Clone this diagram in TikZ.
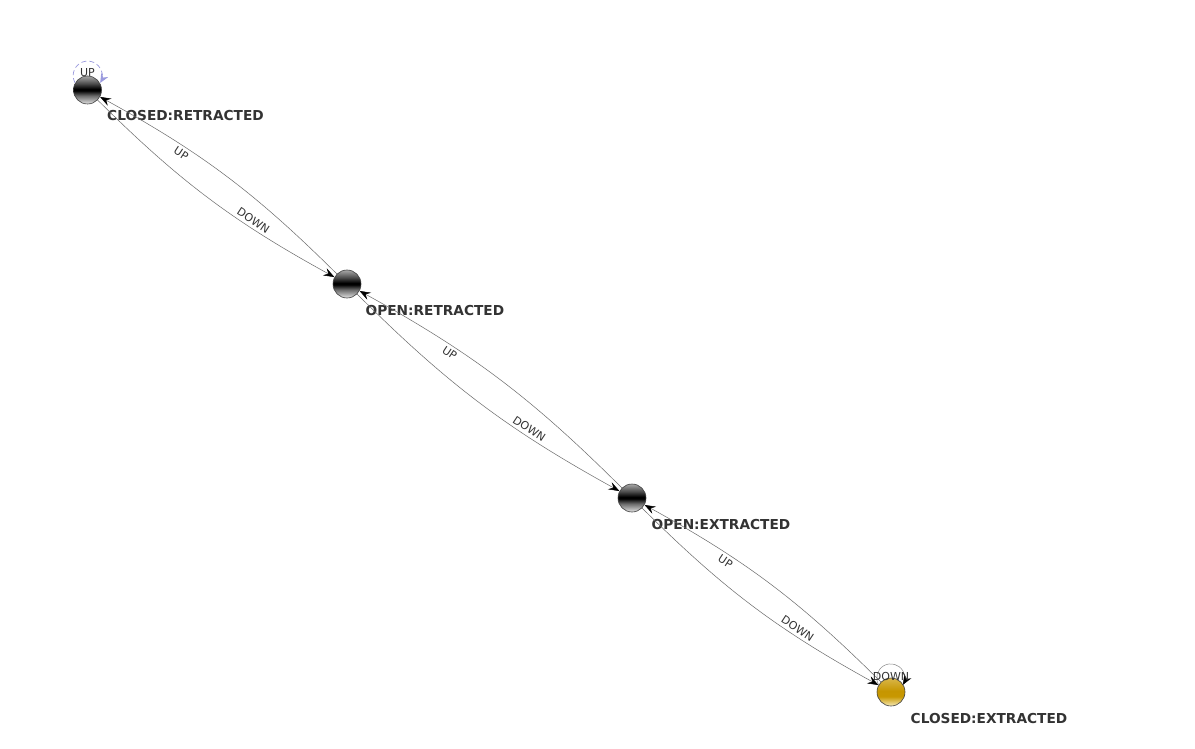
\documentclass[tikz,border=0pt]{standalone}
\usepackage{fontspec}
\setmainfont{DejaVu Sans}
\usetikzlibrary{arrows.meta}
\definecolor{edgegray}{HTML}{6A6A6A}
\definecolor{loopblue}{HTML}{9A9ADE}
\definecolor{loopgray}{HTML}{8A8A8A}
\definecolor{txt}{HTML}{333333}
\definecolor{gA}{HTML}{E4E4E4}
\definecolor{gB}{HTML}{6A6A6A}
\definecolor{gC}{HTML}{505050}
\definecolor{gD}{HTML}{A8A8A8}
\definecolor{yA}{HTML}{F6EAB8}
\definecolor{yB}{HTML}{C89800}
\definecolor{yC}{HTML}{C69600}
\definecolor{yD}{HTML}{D9B64A}
\pgfdeclareverticalshading{ballgray}{100bp}{color(0bp)=(gA); color(25bp)=(gA); color(40bp)=(gB); color(49bp)=(black); color(52bp)=(black); color(62bp)=(gC); color(75bp)=(gD); color(100bp)=(gD)}
\pgfdeclareverticalshading{ballgold}{100bp}{color(0bp)=(yA); color(25bp)=(yA); color(42bp)=(yB); color(52bp)=(yC); color(75bp)=(yD); color(100bp)=(yD)}
\begin{document}
\begin{tikzpicture}[x=1pt,y=1pt,
  state/.style={circle,draw=black!75,line width=0.6pt,minimum size=28pt,inner sep=0pt,shading=ballgray},
  goldstate/.style={state,shading=ballgold},
  statelabel/.style={anchor=base west,text=txt,font=\fontsize{13.7}{16}\selectfont\bfseries,inner sep=0pt},
  trans/.style={draw=edgegray,line width=0.5pt,-{Stealth[length=11pt,width=8pt,inset=4pt,black]}},
  elabel/.style={font=\fontsize{11}{12}\selectfont,text=txt,sloped,inner sep=3pt,pos=0.68},
  aloop/.style={draw=loopblue,dash pattern=on 5pt off 3pt,line width=0.7pt,-{Stealth[length=9pt,width=8pt,inset=3pt,loopblue]}},
  dloop/.style={draw=loopgray,line width=0.5pt,-{Stealth[length=10pt,width=8pt,inset=3.5pt,black]}},
  looplabel/.style={font=\fontsize{11}{12}\selectfont,text=txt,inner sep=0pt}
]
\fill[white] (0,0) rectangle (1195,-749);
\useasboundingbox (0,0) rectangle (1195,-749);

\node[state] (A) at (87.5,-90) {};
\node[state] (B) at (347,-284) {};
\node[state] (C) at (632,-498) {};
\node[goldstate] (D) at (891,-692) {};

\node[statelabel] (lA) at ([shift={(19.5,-31)}]A.center) {CLOSED:RETRACTED};
\node[statelabel] (lB) at ([shift={(18.5,-31)}]B.center) {OPEN:RETRACTED};
\node[statelabel] (lC) at ([shift={(19.5,-31.5)}]C.center) {OPEN:EXTRACTED};
\node[statelabel] (lD) at ([shift={(19.5,-31)}]D.center) {CLOSED:EXTRACTED};

\draw[trans] (A) to[bend right=8] node[elabel,above]{DOWN} (B);
\draw[trans] (B) to[bend right=8] node[elabel,below]{UP} (A);
\draw[trans] (B) to[bend right=8] node[elabel,above]{DOWN} (C);
\draw[trans] (C) to[bend right=8] node[elabel,below]{UP} (B);
\draw[trans] (C) to[bend right=8] node[elabel,above]{DOWN} (D);
\draw[trans] (D) to[bend right=8] node[elabel,below]{UP} (C);

\draw[aloop] (A.150) arc[start angle=210,end angle=-30,radius=14.5];
\node[looplabel] (uA) at ([yshift=17]A.center) {UP};
\draw[dloop] (D.150) arc[start angle=210,end angle=-30,radius=14];
\node[looplabel] (uD) at ([yshift=16]D.center) {DOWN};
\end{tikzpicture}
\end{document}
